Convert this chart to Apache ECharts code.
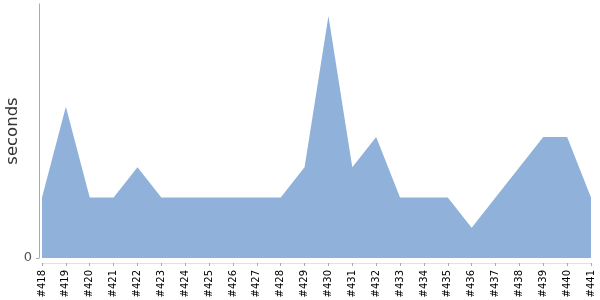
<!DOCTYPE html>
<html><head><meta charset="utf-8">
<script src="https://cdn.jsdelivr.net/npm/echarts@6/dist/echarts.min.js"></script>
<style>html,body{margin:0;padding:0;background:#fff}#c{width:600px;height:300px}</style>
</head><body><div id="c"></div>
<script>
const categories = ['#418','#419','#420','#421','#422','#423','#424','#425','#426','#427','#428','#429','#430','#431','#432','#433','#434','#435','#436','#437','#438','#439','#440','#441'];
const seconds = [2,5,2,2,3,2,2,2,2,2,2,3,8,3,4,2,2,2,1,2,3,4,4,2];
const yTicks = [0];

const chart = echarts.init(document.getElementById('c'), null, {renderer:'canvas'});
chart.setOption({
  animation:false,
  grid:{left:42,right:9,top:4,bottom:42,containLabel:false,outerBoundsMode:'none'},
  xAxis:{
    type:'category', data:categories, boundaryGap:false, offset:5,
    axisLine:{show:true, onZero:false, lineStyle:{color:'#e2e2e2'}},
    axisTick:{show:true, alignWithLabel:true, length:3, lineStyle:{color:'#aaa'}},
    axisLabel:{rotate:90, interval:0, fontSize:10, color:'#000', fontFamily:'DejaVu Sans', margin:7}
  },
  yAxis:{
    type:'value', min:0, max:8.397, offset:3,
    name:'seconds', nameLocation:'middle', nameGap:18, nameMoveOverlap:false,
    nameTextStyle:{fontSize:16.5, color:'#333', fontFamily:'DejaVu Sans'},
    axisLine:{show:true, lineStyle:{color:'#aaa'}},
    axisTick:{show:true, length:3, customValues:yTicks, lineStyle:{color:'#aaa'}},
    axisLabel:{customValues:yTicks, fontSize:13, color:'#555', fontFamily:'DejaVu Sans', margin:7},
    splitLine:{show:false}
  },
  series:[{
    type:'line', data:seconds, symbol:'none',
    lineStyle:{width:0, color:'#8fb1da'},
    areaStyle:{color:'#8fb1da', opacity:1, origin:0}
  }]
});
</script></body></html>
